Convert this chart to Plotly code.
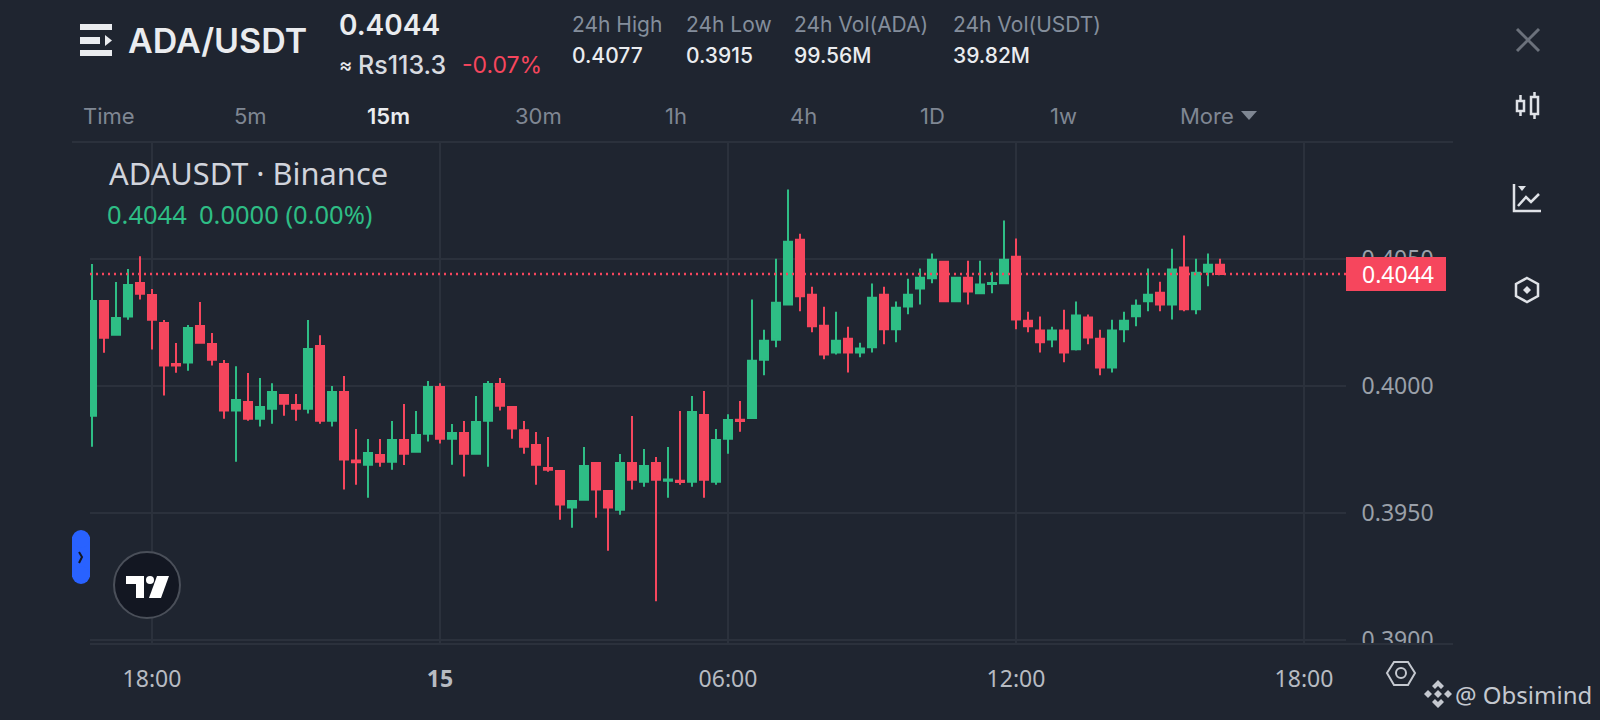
import pandas as pd
import plotly.graph_objects as go

W, H = 1600, 720
BG = "#1f2530"
GRID = "#2b313c"
GREEN = "#2ebd85"
RED = "#f6465d"

# 15m candles
times = pd.date_range("2023-11-14 16:45", periods=95, freq="15min")
open_ = [0.39882, 0.40333, 0.40201, 0.40272, 0.40404, 0.40357, 0.40247, 0.40085, 0.40091, 0.40235,
         0.40164, 0.40085, 0.39902, 0.39936, 0.39870, 0.39909, 0.39963, 0.39924, 0.39909, 0.40156,
         0.39862, 0.39975, 0.39705, 0.39689, 0.39727, 0.39701, 0.39786, 0.39740, 0.39811, 0.39995,
         0.39791, 0.39814, 0.39732, 0.39862, 0.40007, 0.39916, 0.39825, 0.39766, 0.39676, 0.39664,
         0.39520, 0.39551, 0.39696, 0.39585, 0.39512, 0.39696, 0.39622, 0.39696, 0.39626, 0.39626,
         0.39622, 0.39885, 0.39622, 0.39791, 0.39866, 0.39873, 0.40102, 0.40181, 0.40320, 0.40575,
         0.40358, 0.40236, 0.40131, 0.40185, 0.40131, 0.40151, 0.40358, 0.40222, 0.40312, 0.40383,
         0.40423, 0.40488, 0.40332, 0.40425, 0.40364, 0.40400, 0.40403, 0.40508, 0.40256, 0.40217,
         0.40182, 0.40217, 0.40143, 0.40268, 0.40185, 0.40072, 0.40222, 0.40273, 0.40332, 0.40366,
         0.40320, 0.40465, 0.40301, 0.40449, 0.40476]
high = [0.40479, 0.40337, 0.40408, 0.40459, 0.40510, 0.40381, 0.40259, 0.40168, 0.40239, 0.40329,
        0.40207, 0.40101, 0.40077, 0.40050, 0.40030, 0.40010, 0.39967, 0.39967, 0.40259, 0.40199,
        0.39999, 0.40038, 0.39829, 0.39790, 0.39790, 0.39861, 0.39928, 0.39900, 0.40018, 0.40010,
        0.39849, 0.39861, 0.39959, 0.40018, 0.40030, 0.39920, 0.39861, 0.39818, 0.39798, 0.39668,
        0.39550, 0.39759, 0.39699, 0.39589, 0.39731, 0.39881, 0.39751, 0.39719, 0.39759, 0.39900,
        0.39959, 0.39979, 0.39829, 0.39888, 0.39940, 0.40339, 0.40220, 0.40500, 0.40772, 0.40598,
        0.40390, 0.40311, 0.40291, 0.40232, 0.40169, 0.40402, 0.40390, 0.40331, 0.40421, 0.40461,
        0.40520, 0.40492, 0.40429, 0.40492, 0.40492, 0.40449, 0.40650, 0.40579, 0.40291, 0.40272,
        0.40232, 0.40299, 0.40331, 0.40280, 0.40220, 0.40260, 0.40291, 0.40339, 0.40461, 0.40409,
        0.40539, 0.40591, 0.40500, 0.40520, 0.40500]
low = [0.39760, 0.40130, 0.40197, 0.40260, 0.40339, 0.40142, 0.39961, 0.40051, 0.40059, 0.40165,
       0.40079, 0.39870, 0.39701, 0.39862, 0.39839, 0.39850, 0.39882, 0.39862, 0.39890, 0.39850,
       0.39839, 0.39591, 0.39610, 0.39559, 0.39681, 0.39669, 0.39688, 0.39736, 0.39780, 0.39772,
       0.39689, 0.39642, 0.39728, 0.39681, 0.39902, 0.39791, 0.39732, 0.39610, 0.39661, 0.39472,
       0.39441, 0.39547, 0.39480, 0.39350, 0.39492, 0.39591, 0.39602, 0.39151, 0.39559, 0.39610,
       0.39602, 0.39559, 0.39610, 0.39732, 0.39819, 0.39869, 0.40041, 0.40151, 0.40316, 0.40293,
       0.40210, 0.40104, 0.40123, 0.40052, 0.40112, 0.40131, 0.40163, 0.40171, 0.40281, 0.40320,
       0.40403, 0.40328, 0.40328, 0.40320, 0.40360, 0.40364, 0.40399, 0.40222, 0.40210, 0.40131,
       0.40151, 0.40092, 0.40139, 0.40163, 0.40041, 0.40052, 0.40171, 0.40234, 0.40293, 0.40293,
       0.40261, 0.40293, 0.40281, 0.40391, 0.40438]
close = [0.40333, 0.40189, 0.40266, 0.40396, 0.40362, 0.40260, 0.40079, 0.40079, 0.40227, 0.40169,
         0.40102, 0.39902, 0.39944, 0.39870, 0.39916, 0.39975, 0.39929, 0.39909, 0.40144, 0.39862,
         0.39975, 0.39709, 0.39699, 0.39735, 0.39701, 0.39786, 0.39732, 0.39806, 0.39995, 0.39791,
         0.39814, 0.39732, 0.39857, 0.40007, 0.39921, 0.39831, 0.39760, 0.39689, 0.39669, 0.39532,
         0.39546, 0.39684, 0.39591, 0.39520, 0.39696, 0.39630, 0.39684, 0.39630, 0.39631, 0.39621,
         0.39896, 0.39630, 0.39786, 0.39865, 0.39861, 0.40098, 0.40177, 0.40327, 0.40567, 0.40352,
         0.40234, 0.40123, 0.40177, 0.40131, 0.40146, 0.40346, 0.40222, 0.40307, 0.40358, 0.40425,
         0.40496, 0.40332, 0.40425, 0.40371, 0.40398, 0.40404, 0.40496, 0.40261, 0.40234, 0.40171,
         0.40217, 0.40131, 0.40276, 0.40190, 0.40072, 0.40217, 0.40256, 0.40315, 0.40358, 0.40320,
         0.40457, 0.40301, 0.40445, 0.40476, 0.40440]

last_price = 0.4044
y_ticks = [0.39, 0.395, 0.40, 0.405]
y_labels = ["0.3900", "0.3950", "0.4000", "0.4050"]
x_ticks = ["2023-11-14 18:00", "2023-11-15 00:00", "2023-11-15 06:00", "2023-11-15 12:00", "2023-11-15 18:00"]
x_labels = ["18:00", "<b>15</b>", "06:00", "12:00", "18:00"]

tabs = ["Time", "5m", "15m", "30m", "1h", "4h", "1D", "1w", "More"]
tab_x = [82, 233, 366, 514, 664, 789, 919, 1049, 1179]
stats = [("24h High", "0.4077", 571), ("24h Low", "0.3915", 685),
         ("24h Vol(ADA)", "99.56M", 793), ("24h Vol(USDT)", "39.82M", 952)]


def px(x):
    return x / W


def py(y):
    return 1 - y / H


def path(points, closed=True):
    d = "M" + " L".join(f"{px(x):.5f},{py(y):.5f}" for x, y in points)
    return d + (" Z" if closed else "")


def poly(points, fill=None, line=None, width=0, closed=True):
    return dict(type="path", xref="paper", yref="paper", layer="above", path=path(points, closed),
                fillcolor=fill if fill else "rgba(0,0,0,0)",
                line=dict(color=line if line else "rgba(0,0,0,0)", width=width))


def rect(x0, y0, x1, y1, fill):
    return poly([(x0, y0), (x1, y0), (x1, y1), (x0, y1)], fill=fill)


def oval(x0, y0, x1, y1, fill=None, line=None, width=0):
    return dict(type="circle", xref="paper", yref="paper", layer="above",
                x0=px(x0), x1=px(x1), y0=py(y1), y1=py(y0),
                fillcolor=fill if fill else "rgba(0,0,0,0)",
                line=dict(color=line if line else "rgba(0,0,0,0)", width=width))


def label(text, x, y, size, color, weight=400, family="Inter", anchor="left"):
    return dict(text=text, x=px(x), y=py(y), xref="paper", yref="paper", xanchor=anchor, yanchor="middle",
                showarrow=False, borderpad=0, font=dict(size=size, color=color, family=family, weight=weight))


fig = go.Figure(go.Candlestick(
    x=times, open=open_, high=high, low=low, close=close,
    increasing=dict(line=dict(color=GREEN, width=2), fillcolor=GREEN),
    decreasing=dict(line=dict(color=RED, width=2), fillcolor=RED),
    whiskerwidth=0, showlegend=False,
))

shapes = []
# pane rules
shapes.append(dict(type="line", xref="paper", yref="paper", x0=px(72), x1=px(1453), y0=py(142), y1=py(142),
                   line=dict(color=GRID, width=2), layer="below"))
# hides the part of the price labels under the time scale
shapes.append(rect(1348, 645, 1460, 720, BG))
shapes.append(dict(type="line", xref="paper", yref="paper", x0=px(90), x1=px(1453), y0=py(644), y1=py(644),
                   line=dict(color=GRID, width=2), layer="above"))
# last price line and tag
shapes.append(dict(type="line", xref="paper", yref="y", x0=px(90), x1=px(1346), y0=last_price, y1=last_price,
                   line=dict(color=RED, width=2.4, dash="2px,4px"), layer="above"))
shapes.append(rect(1346, 257, 1446, 291, RED))

# menu icon
ICON = "#eaecef"
shapes += [rect(80, 24, 112, 30, ICON), rect(80, 37, 100, 44, ICON), rect(80, 50, 112, 56, ICON),
           poly([(105, 35), (112, 40.5), (105, 46)], fill=ICON)]

# "More" arrow
shapes.append(poly([(1241, 111), (1257, 111), (1249, 120)], fill="#7f8793"))

# close
shapes.append(poly([(1517, 29), (1539, 51)], line="#6b717b", width=3, closed=False))
shapes.append(poly([(1539, 29), (1517, 51)], line="#6b717b", width=3, closed=False))

# candle icon
SIDE = "#dfe2e7"
shapes += [rect(1517, 101, 1524, 111, None) | dict(line=dict(color=SIDE, width=2.5)),
           rect(1531, 97, 1538, 114, None) | dict(line=dict(color=SIDE, width=2.5)),
           poly([(1520.5, 95), (1520.5, 101)], line=SIDE, width=2.5, closed=False),
           poly([(1520.5, 111), (1520.5, 116)], line=SIDE, width=2.5, closed=False),
           poly([(1534.5, 92), (1534.5, 97)], line=SIDE, width=2.5, closed=False),
           poly([(1534.5, 114), (1534.5, 119)], line=SIDE, width=2.5, closed=False)]

# indicator icon
shapes += [poly([(1514, 184), (1514, 211), (1541, 211)], line=SIDE, width=2.5, closed=False),
           poly([(1518, 206), (1526, 197), (1531, 202), (1539, 194)], line=SIDE, width=2.5, closed=False),
           poly([(1518, 186), (1526, 186), (1522, 191)], fill=SIDE)]

# side hexagon
shapes += [poly([(1527, 278), (1538, 284), (1538, 296), (1527, 302), (1516, 296), (1516, 284)], line=SIDE, width=2.5),
           poly([(1527, 286), (1531, 290), (1527, 294), (1523, 290)], fill=SIDE)]

# blue handle
shapes.append(rect(72, 537, 90, 577, "#2962ff"))
shapes.append(oval(72, 530, 90, 548, fill="#2962ff"))
shapes.append(oval(72, 566, 90, 584, fill="#2962ff"))
shapes.append(poly([(79, 552), (82, 557), (79, 563)], line="#131722", width=2, closed=False))

# tradingview badge
shapes.append(oval(114, 552, 180, 618, fill="#131722", line="#4a4f59", width=2))
shapes += [poly([(126, 576), (144, 576), (144, 598), (136, 598), (136, 584), (126, 584)], fill="#ffffff"),
           oval(146, 576, 154, 584, fill="#ffffff"),
           poly([(157, 576), (169, 576), (161, 598), (149, 598)], fill="#ffffff")]

# settings hexagon
shapes += [poly([(1394, 662), (1408, 662), (1415, 673), (1408, 685), (1394, 685), (1387, 673)], line="#c4c8cf", width=2),
           oval(1396, 668, 1406, 678, line="#c4c8cf", width=2)]

# binance mark
MARK = "#c4c8cf"
shapes += [poly([(1438, 680), (1444, 686), (1441, 689), (1438, 686), (1435, 689), (1432, 686)], fill=MARK),
           poly([(1438, 690), (1442, 694), (1438, 698), (1434, 694)], fill=MARK),
           poly([(1428, 690), (1432, 694), (1428, 698), (1424, 694)], fill=MARK),
           poly([(1448, 690), (1452, 694), (1448, 698), (1444, 694)], fill=MARK),
           poly([(1438, 708), (1444, 702), (1441, 699), (1438, 702), (1435, 699), (1432, 702)], fill=MARK)]

annotations = [
    label("ADA/USDT", 127, 40, 34, "#eaecef", 600),
    label("0.4044", 338, 25, 28, "#eaecef", 600),
    label("≈", 338, 65, 20, "#eaecef", 500),
    label("Rs113.3", 357, 65, 25, "#d8dbe0", 500),
    label("-0.07%", 461, 65, 23, RED),
    label("ADAUSDT · Binance", 108, 173, 30.8, "#d1d4dc", family="Noto Sans"),
    label("0.4044", 106, 214, 25.5, GREEN, family="Noto Sans"),
    label("0.0000 (0.00%)", 198, 214, 25.5, GREEN, family="Noto Sans"),
    label("0.4044", 1361, 274, 23, "#ffffff", family="Noto Sans"),
    label("@ Obsimind", 1454, 694, 24, "#c4c8cf", family="Noto Sans"),
]
for name, x in zip(tabs, tab_x):
    active = name == "15m"
    annotations.append(label(name, x, 116, 22, "#eaecef" if active else "#7f8793", 600 if active else 400))
for name, value, x in stats:
    annotations.append(label(name, x, 25, 21, "#848e9c"))
    annotations.append(label(value, x, 56, 21, "#eaecef", 500))

fig.update_layout(
    width=W, height=H, autosize=False,
    margin=dict(l=0, r=0, t=0, b=0),
    paper_bgcolor=BG, plot_bgcolor=BG,
    boxmode="overlay", boxgap=0.33, boxgroupgap=0,
    font=dict(family="Noto Sans", size=23, color="#9aa0a9"),
    shapes=shapes, annotations=annotations,
    xaxis=dict(
        domain=[px(90), px(1346)], anchor="y", type="date", automargin=False,
        range=["2023-11-14 16:42:30", "2023-11-15 18:52:30"],
        rangeslider=dict(visible=False),
        tickmode="array", tickvals=x_ticks, ticktext=x_labels, tickangle=0,
        showgrid=True, gridcolor=GRID, gridwidth=2, zeroline=False,
        ticks="outside", ticklen=14, tickcolor=BG, showline=False,
        tickfont=dict(size=23, color="#b7bbc2"),
    ),
    yaxis=dict(
        domain=[py(644), py(142)], anchor="x", side="right", automargin=False,
        range=[0.38983, 0.409594],
        tickmode="array", tickvals=y_ticks, ticktext=y_labels,
        showgrid=True, gridcolor=GRID, gridwidth=2, zeroline=False,
        ticks="outside", ticklen=10, tickcolor=BG, showline=False,
        tickfont=dict(size=23, color="#9aa0a9"),
    ),
)

fig.write_html("out.html", config=dict(displayModeBar=False),
               post_script="document.body.style.margin='0';document.body.style.background='" + BG + "';")
